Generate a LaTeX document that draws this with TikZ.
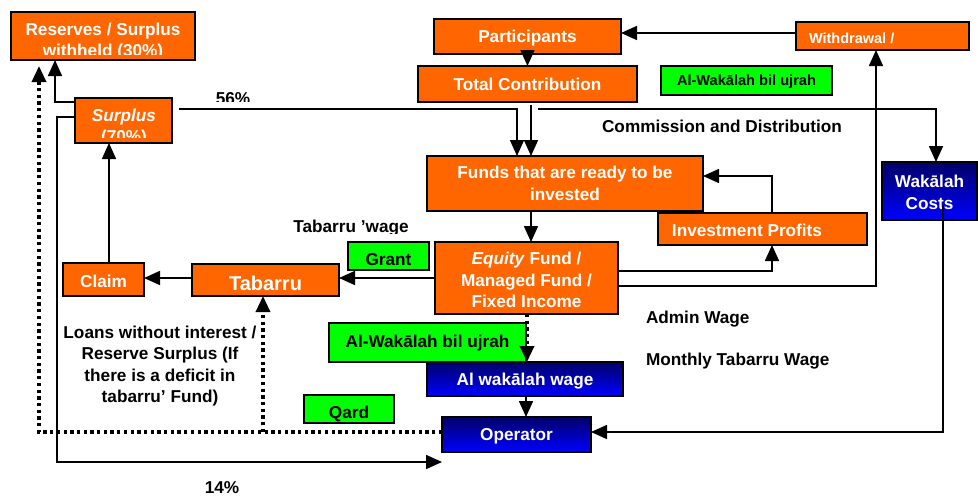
\documentclass[tikz,border=0pt]{standalone}
\usepackage{fontspec}
\setmainfont{Liberation Sans}
\usetikzlibrary{arrows.meta}
\definecolor{orng}{RGB}{255,102,0}
\definecolor{grn}{RGB}{0,255,0}
\definecolor{navyb}{RGB}{0,0,105}
\definecolor{brightb}{RGB}{0,0,255}
\newcommand\bx[7]{\node[#6, minimum width={(#4)-(#2)}, minimum height={(#5)-(#3)}] (#1) at ({((#2)+(#4))/2},{((#3)+(#5))/2}) {#7};}
\newcommand\fsz[1]{\bfseries\fontsize{#1}{21.5}\selectfont}
\tikzset{
  every node/.style={inner sep=0pt, outer sep=0pt, font=\fsz{17.2}},
  boxbase/.style={draw=black, line width=1.8pt, align=center},
  obox/.style={boxbase, fill=orng, text=white},
  gbox/.style={boxbase, fill=grn, text=black},
  bbox/.style={boxbase, top color=navyb, bottom color=brightb, text=white},
  sl/.style={text height=#1, text depth=0pt},
  sl/.default=12.3pt,
  conn/.style={draw=black, line width=1.6pt},
  tip/.style={-{Triangle[length=16pt,width=14pt]}},
  arr/.style={conn, tip},
  dotarr/.style={draw=black, line width=3.3pt, dash pattern=on 3.3pt off 3.4pt, tip},
}
\begin{document}
\begin{tikzpicture}[x=1pt,y=-1pt]
\useasboundingbox (0,0) rectangle (978,496);

% boxes
\bx{reserves}{11}{12}{195}{60}{obox}{}
\bx{surplus}{75}{98}{172}{143}{obox}{}
\bx{participants}{434}{19}{621}{54}{obox,sl}{Participants}
\bx{totalc}{418}{66}{637}{102}{obox,sl}{Total Contribution}
\bx{withdrawal}{796}{22}{969}{50}{obox}{}
\bx{wakA}{661}{66}{832}{95}{gbox,sl=10.45pt,font=\fsz{14.6}}{Al-Wakālah bil ujrah}
\bx{funds}{427}{156}{703}{211}{obox}{Funds that are ready to be\\invested}
\bx{wcosts}{882}{162}{977}{220}{bbox}{\rule{0pt}{15.5pt}Wakālah\\Costs}
\bx{invp}{658}{213}{867}{245}{obox,sl=14.3pt}{Investment Profits\hspace*{31pt}}
\bx{equity}{435}{242}{618}{314}{obox}{\rule{0pt}{17pt}\textit{Equity} Fund /\\Managed Fund /\\Fixed Income}
\bx{grant}{348}{242}{429}{270}{gbox,sl=18.3pt}{Grant}
\bx{tabarru}{192}{264}{339}{296}{obox,sl=20.3pt,font=\fsz{20}}{Tabarru}
\bx{claim}{63}{263}{144}{296}{obox,sl=15.3pt}{Claim}
\bx{wakB}{329}{323}{526}{362}{gbox,sl=9.3pt}{Al-Wakālah bil ujrah}
\bx{alwage}{427}{362}{623}{396}{bbox,sl}{Al wakālah wage}
\bx{qard}{304}{395}{394}{423}{gbox,sl=19.3pt}{Qard}
\bx{operator}{442}{417}{591}{452}{bbox,sl}{Operator}

% clipped texts in boxes
\begin{scope}
\clip (11,12) rectangle (195,54);
\node[text=white, align=center] (reservesT) at (103,41.4) {Reserves / Surplus\\withheld (30\%)};
\end{scope}
\begin{scope}
\clip (75,98) rectangle (172,137);
\node[text=white, align=center] (surplusT) at (124,127.4) {\textit{Surplus}\\(70\%)};
\end{scope}
\node[text=white, anchor=base west, font=\fsz{14.5}] (withdrawalT) at (809,43.2) {Withdrawal /};

% free labels
\begin{scope}
\clip (200,80) rectangle (270,101);
\node[anchor=base] (p56) at (233,104.3) {56\%};
\end{scope}
\node[anchor=base] (commission) at (722,132) {Commission and Distribution};
\begin{scope}
\clip (280,210) rectangle (420,233);
\node[anchor=base] (tabwage) at (351,232.3) {Tabarru 'wage};
\end{scope}
\node[anchor=base west] (admin) at (646,323) {Admin Wage};
\node[anchor=base west] (monthly) at (646,365) {Monthly Tabarru Wage};
\node[align=center] (loans) at (160,366) {Loans without interest /\\Reserve Surplus (If\\there is a deficit in\\tabarru’ Fund)};
\node[anchor=base] (p14) at (222,493) {14\%};

% connectors
\draw[arr] (surplus.west |- 0,102) -| (reserves.south -| 55,0);
\draw[arr] (surplus.west |- 0,117) -| (57,462) -- (operator.west |- 0,462);
\draw[arr] (surplus.east |- 0,109) ++(7,0) -| (funds.north -| 517,0);
\draw[arr] (participants.south) -- (totalc.north);
\draw[arr] (totalc.south -| 531,0) ++(0,3) -- (funds.north -| 531,0);
\coordinate (wcstart) at (538,109);
\draw[arr] (wcstart) -| (wcosts.north -| 936,0);
\draw[arr] (withdrawal.west |- 0,33) -- (participants.east |- 0,33);
\draw[arr] (equity.east |- 0,286) -| (withdrawal.south -| 876,0);
\draw[arr] (equity.east |- 0,271) -| (invp.south -| 772,0);
\draw[arr] (invp.north -| 772,0) |- (funds.east |- 0,176);
\draw[arr] (funds.south -| 531,0) -- (equity.north -| 531,0);
\draw[arr] (equity.west |- 0,278) -- (tabarru.east |- 0,278);
\draw[arr] (tabarru.west |- 0,278) -- (claim.east |- 0,278);
\draw[arr] (claim.north -| 109,0) -- (surplus.south -| 109,0);
\draw[dotarr, shorten >=6pt] (operator.west |- 0,432) -| (reserves.south -| 39,0);
\coordinate (dj) at (263,432);
\draw[dotarr] (dj) -- (tabarru.south -| 263,0);
\draw[dotarr] (equity.south -| 527,0) -- (alwage.north -| 527,0);
\draw[arr] (alwage.south -| 526,0) -- (operator.north -| 526,0);
\draw[arr] (wcosts.south -| 943,0) ++(0,-15) |- (operator.east |- 0,432);
\end{tikzpicture}
\end{document}
